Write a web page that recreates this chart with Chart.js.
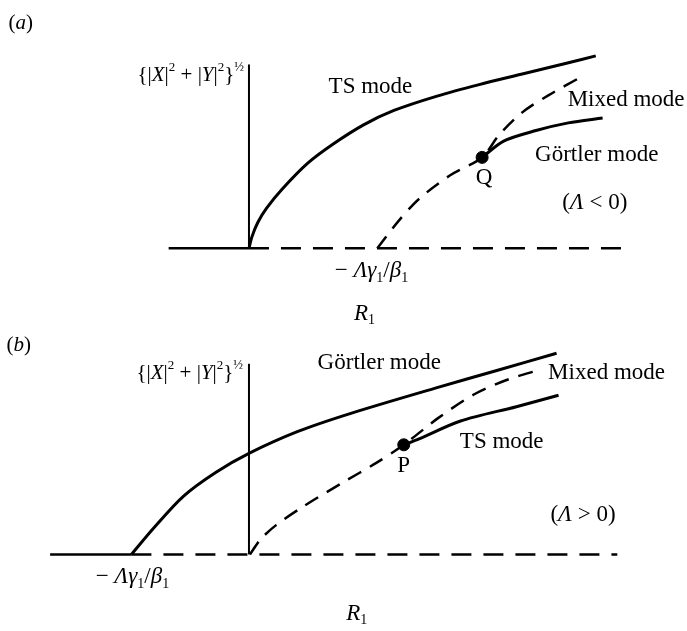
<!DOCTYPE html>
<html>
<head>
<meta charset="utf-8">
<script src="https://cdn.jsdelivr.net/npm/chart.js@4/dist/chart.umd.min.js"></script>
<style>
  html, body { margin: 0; padding: 0; background: #fff; }
  #wrap { position: relative; width: 687px; height: 631px; }
  .panel { position: absolute; left: 0; width: 687px; }
  #pa { top: 0; height: 332px; }
  #pb { top: 332px; height: 299px; }
</style>
</head>
<body>
<div id="wrap">
  <div class="panel" id="pa"><canvas id="chartA" width="687" height="332"></canvas></div>
  <div class="panel" id="pb"><canvas id="chartB" width="687" height="299"></canvas></div>
</div>
<script>
// (a)  Λ < 0   -- x is R1, y is {|X|^2+|Y|^2}^(1/2), schematic units
const aZeroStable   = [[-0.82, 0], [0, 0]];
const aZeroUnstable = [[0, 0], [3.85, 0]];
const aAxis         = [[0, 0], [0, 1.92]];
const aTS      = [[0, 0], [0.03, 0.12], [0.09, 0.27], [0.18, 0.42], [0.34, 0.62], [0.60, 0.89],
                  [0.86, 1.09], [1.17, 1.29], [1.48, 1.44], [1.92, 1.59], [2.35, 1.71], [2.79, 1.82],
                  [3.23, 1.93], [3.54, 2.01]];
const aMixed   = [[1.31, 0], [1.53, 0.29], [1.74, 0.52], [2.05, 0.76], [2.38, 0.95], [2.55, 1.18],
                  [2.79, 1.42], [3.06, 1.60], [3.39, 1.79]];
const aGortler = [[2.38, 0.95], [2.60, 1.12], [2.93, 1.23], [3.26, 1.31], [3.61, 1.36]];
const aQ       = [[2.38, 0.95]];

// (b)  Λ > 0
const bZeroStable   = [[-2.03, 0], [-1.20, 0]];
const bZeroUnstable = [[-1.20, 0], [3.76, 0]];
const bAxis         = [[0, 0], [0, 2.00]];
const bGortler = [[-1.20, 0], [-0.97, 0.28], [-0.67, 0.61], [-0.34, 0.86], [0.00, 1.06], [0.50, 1.29],
                  [1.04, 1.48], [1.92, 1.75], [2.53, 1.93], [3.14, 2.11]];
const bMixed   = [[0.01, 0], [0.12, 0.16], [0.28, 0.31], [0.55, 0.50], [0.95, 0.75], [1.30, 0.96],
                  [1.58, 1.15], [1.93, 1.43], [2.30, 1.68], [2.63, 1.83], [2.98, 1.94]];
const bTS      = [[1.58, 1.15], [1.73, 1.21], [2.16, 1.40], [2.73, 1.55], [3.16, 1.67]];
const bP       = [[1.58, 1.15]];

const xRange = [-2.47, 4.40];
const aYRange = [-0.80, 2.52];
const bYRange = [-0.73, 2.26];

const FONT = '"Liberation Serif", "DejaVu Serif", serif';
const yLabel = [{ t: '{|' }, { t: 'X', i: true }, { t: '|' }, { t: '2', sup: true }, { t: ' + |' },
                { t: 'Y', i: true }, { t: '|' }, { t: '2', sup: true }, { t: '}' }, { t: '½', sup: true }];
const crit = [{ t: '− ' }, { t: 'Λγ', i: true }, { t: '1', sub: true }, { t: '/' }, { t: 'β', i: true }, { t: '1', sub: true }];
const rLabel = [{ t: 'R', i: true }, { t: '1', sub: true }];

const textsA = [
  { x: -2.33, y: 2.35, s: 21, parts: [{ t: '(' }, { t: 'a', i: true }, { t: ')' }] },
  { x: -0.05, y: 1.81, s: 21, align: 'right', parts: yLabel },
  { x: 1.24, y: 1.69, s: 23, parts: [{ t: 'TS mode' }] },
  { x: 3.85, y: 1.55, s: 23, parts: [{ t: 'Mixed mode' }] },
  { x: 3.55, y: 0.98, s: 23, parts: [{ t: 'Görtler mode' }] },
  { x: 2.40, y: 0.74, s: 23, parts: [{ t: 'Q' }] },
  { x: 3.53, y: 0.47, s: 23, parts: [{ t: '(' }, { t: 'Λ', i: true }, { t: ' < 0)' }] },
  { x: 1.25, y: -0.24, s: 23, parts: crit },
  { x: 1.18, y: -0.68, s: 23, parts: rLabel },
];
const textsB = [
  { x: -2.35, y: 2.19, s: 21, parts: [{ t: '(' }, { t: 'b', i: true }, { t: ')' }] },
  { x: -0.06, y: 1.90, s: 21, align: 'right', parts: yLabel },
  { x: 1.33, y: 2.01, s: 23, parts: [{ t: 'Görtler mode' }] },
  { x: 3.65, y: 1.90, s: 23, parts: [{ t: 'Mixed mode' }] },
  { x: 2.58, y: 1.18, s: 23, parts: [{ t: 'TS mode' }] },
  { x: 1.58, y: 0.93, s: 23, parts: [{ t: 'P' }] },
  { x: 3.41, y: 0.41, s: 23, parts: [{ t: '(' }, { t: 'Λ', i: true }, { t: ' > 0)' }] },
  { x: -1.19, y: -0.24, s: 23, parts: crit },
  { x: 1.10, y: -0.62, s: 23, parts: rLabel },
];

const pts = arr => arr.map(([x, y]) => ({ x, y }));

function drawRich(ctx, parts, x, y, align, size) {
  const font = p => `${p.i ? 'italic ' : ''}${p.sub || p.sup ? Math.round(size * 0.62) : size}px ${FONT}`;
  let w = 0;
  parts.forEach(p => { ctx.font = font(p); w += ctx.measureText(p.t).width; });
  let cx = align === 'right' ? x - w : align === 'left' ? x : x - w / 2;
  ctx.textAlign = 'left';
  ctx.textBaseline = 'middle';
  parts.forEach(p => {
    ctx.font = font(p);
    const dy = p.sub ? size * 0.3 : p.sup ? -size * 0.35 : 0;
    ctx.fillText(p.t, cx, y + dy);
    cx += ctx.measureText(p.t).width;
  });
}

function textPlugin(texts) {
  return {
    id: 'texts',
    afterDatasetsDraw(chart) {
      const ctx = chart.ctx;
      const sx = chart.scales.x, sy = chart.scales.y;
      ctx.save();
      ctx.fillStyle = '#000';
      texts.forEach(l => drawRich(ctx, l.parts, sx.getPixelForValue(l.x), sy.getPixelForValue(l.y), l.align, l.s));
      ctx.restore();
    }
  };
}

function line(data, opts) {
  return Object.assign({
    data: pts(data), showLine: true, pointRadius: 0, borderColor: '#000',
    borderWidth: 3, fill: false, tension: 0.3
  }, opts || {});
}

function makeChart(id, yRange, datasets, texts) {
  return new Chart(document.getElementById(id), {
    type: 'scatter',
    data: { datasets },
    options: {
      responsive: false,
      animation: false,
      events: [],
      layout: { padding: 0 },
      plugins: { legend: { display: false }, tooltip: { enabled: false } },
      scales: {
        x: { type: 'linear', min: xRange[0], max: xRange[1], display: false },
        y: { type: 'linear', min: yRange[0], max: yRange[1], display: false },
      },
    },
    plugins: [textPlugin(texts)],
  });
}

const dot = d => ({ data: pts(d), pointRadius: 6, pointBackgroundColor: '#000', pointBorderColor: '#000', showLine: false });

makeChart('chartA', aYRange, [
  line(aZeroStable, { borderWidth: 2.5, tension: 0 }),
  line(aZeroUnstable, { borderWidth: 2.5, borderDash: [20, 12], tension: 0 }),
  line(aAxis, { borderWidth: 2, tension: 0 }),
  line(aTS),
  line(aMixed, { borderWidth: 2.5, borderDash: [15, 10] }),
  line(aGortler),
  dot(aQ),
], textsA);

makeChart('chartB', bYRange, [
  line(bZeroStable, { borderWidth: 2.5, tension: 0 }),
  line(bZeroUnstable, { borderWidth: 2.5, borderDash: [20, 12], tension: 0 }),
  line(bAxis, { borderWidth: 2, tension: 0 }),
  line(bGortler),
  line(bMixed, { borderWidth: 2.5, borderDash: [15, 10] }),
  line(bTS),
  dot(bP),
], textsB);
</script>
</body>
</html>
